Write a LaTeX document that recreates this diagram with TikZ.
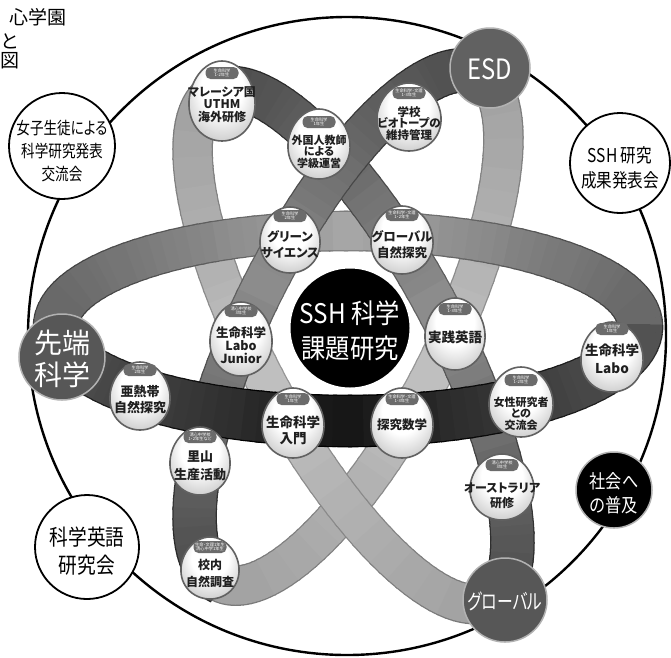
\documentclass[tikz,border=0pt]{standalone}
\usepackage{fontspec}
\newfontfamily\jp{Noto Sans CJK JP}[RawFeature=+palt]
\usetikzlibrary{calc}
\newcommand\fs[2]{\fontsize{#1}{#2}\selectfont}
\pgfdeclareradialshading{eggshade}{\pgfpoint{0bp}{12bp}}{color(0bp)=(white); color(16bp)=(white); color(28bp)=(black!16); color(40bp)=(black!36); color(50bp)=(black!45)}
\newcommand\bandpart[6]{%
  \pgfmathtruncatemacro\nseg{round(abs(#2-#1)/3)}%
  \foreach \pass in {0,1}{%
  \foreach \i in {1,...,\nseg}{%
    \pgfmathsetmacro\ta{#1+(#2-#1)*(\i-1)/\nseg}%
    \pgfmathsetmacro\tb{#1+(#2-#1)*\i/\nseg+0.8}%
    \pgfmathsetmacro\tm{(\ta+\tb)/2}%
    \pgfmathsetmacro\wv{#5+#6*sin(\tm)+2.6*(1-\pass)}%
    \pgfmathtruncatemacro\gv{min(100,max(0,#3+#4*abs(cos(\tm))+16*(1-\pass)))}%
    \draw[line width=\wv pt, color=black!\gv, shift={(\RX,\RY)}, rotate=\RR]
      (\ta:\RA pt and \RB pt) arc[start angle=\ta, end angle=\tb, x radius=\RA pt, y radius=\RB pt];
  }}}
\newcommand\egg[4]{%
  \shadedraw[shading=eggshade, draw=black!62, line width=1.6pt]
    plot[domain=0:354, samples=60, smooth cycle, variable=\t]
    ({#1+(#3/2)*cos(\t)*(1+0.07*sin(\t))}, {#2+(#4/2)*sin(\t)});}
\begin{document}
\begin{tikzpicture}[x=1pt,y=-1pt,
  pillst/.style={fill=black!58, rounded corners=5pt, minimum width=33pt, minimum height=12pt, inner sep=0pt, text=white, align=center, font=\jp\fs{4.2}{4.6}},
  eggtxt/.style={align=center, inner sep=0pt, text=black!88},
  bigw/.style={circle, draw=black, line width=1.8pt, fill=white, inner sep=0pt},
  bigd/.style={circle, draw=black!30, line width=1.5pt, inner sep=0pt},
  bigtxt/.style={align=center, inner sep=0pt, transform shape}]
\useasboundingbox (0,0) rectangle (671,657);
\fill[white] (0,0) rectangle (671,657);

% cropped header text
\node[anchor=east, inner sep=0pt, font=\jp\fs{19}{19}] (hd1) at (67,17) {心学園};
\node[anchor=west, inner sep=0pt, font=\jp\fs{19}{19}] (hd2) at (0.5,41) {と};
\node[anchor=west, inner sep=0pt, font=\jp\fs{19}{19}] (hd3) at (0.5,61) {図};

% outer circle
\node[circle, draw=black, line width=2.4pt, minimum size=638pt, inner sep=0pt] (outer) at (347,336) {};

% ---- rings: back parts
\def\RX{349}\def\RY{328}\def\RR{63.05}\def\RA{285}\def\RB{95}
\bandpart{180}{360}{25}{12}{38}{0}
\def\RX{352.5}\def\RY{346}\def\RR{-61.6}\def\RA{289}\def\RB{93}
\bandpart{180}{360}{25}{12}{38}{0}
% horizontal ring top
\def\RX{348}\def\RY{326}\def\RR{0}\def\RA{292}\def\RB{95}
\bandpart{0}{180}{35}{25}{44}{(-6)}
% front parts
\def\RX{352.5}\def\RY{346}\def\RR{-61.6}\def\RA{289}\def\RB{93}
\bandpart{0}{180}{45}{25}{42}{0}
\def\RX{349}\def\RY{328}\def\RR{63.05}\def\RA{285}\def\RB{95}
\bandpart{0}{180}{45}{25}{42}{0}
% horizontal ring bottom
\def\RX{348}\def\RY{326}\def\RR{0}\def\RA{292}\def\RB{95}
\bandpart{180}{360}{92}{(-24)}{44}{(-6)}

% ---- outer bubbles
\node[bigw, minimum size=106pt] (c1) at (62,146) {};
\node[bigtxt, xscale=0.8, font=\jp\fs{17}{23}] (t1) at (62,151) {女子生徒による\\科学研究発表\\交流会};
\node[bigw, minimum size=100pt] (c2) at (620,163) {};
\node[bigtxt, xscale=0.82, font=\jp\fs{19}{25}] (t2) at (620,168) {SSH 研究\\成果発表会};
\node[bigd, fill=black!66, minimum size=86pt] (c3) at (62,357) {};
\node[bigtxt, text=white, font=\jp\fs{28}{32}] (t3) at (62,359) {先端\\科学};
\node[bigd, fill=black, minimum size=76pt] (c4) at (614,490) {};
\node[bigtxt, text=white, xscale=0.85, font=\jp\fs{19}{24}] (t4) at (614,493) {社会へ\\の普及};
\node[bigw, minimum size=104pt] (c5) at (87,547) {};
\node[bigtxt, xscale=0.85, font=\jp\fs{22}{28}] (t5) at (87,551) {科学英語\\研究会};
\node[bigd, fill=black!66, minimum size=84pt] (c6) at (505,600) {};
\node[bigtxt, text=white, xscale=0.75, font=\jp\fs{21}{21}] (t6) at (505,601) {グローバル};
\node[bigd, fill=black!62, minimum size=80pt] (c7) at (490,68) {};
\node[bigtxt, text=white, xscale=0.85, font=\jp\fs{28}{28}] (t7) at (490,69) {ESD};

% ---- eggs
\egg{222}{101}{66}{80}
\node[pillst] (p1) at (222,73) {生命科学\\1-2年生};
\node[eggtxt, font=\jp\bfseries\fs{12}{12.5}] (e1) at (222,104.5) {マレーシア国\\UTHM\\海外研修};
\egg{319}{144}{62}{70}
\node[pillst] (p2) at (319,122) {生命科学\\1年生};
\node[eggtxt, font=\jp\bfseries\fs{11}{11.5}] (e2) at (319,151.5) {外国人教師\\による\\学級運営};
\egg{409}{117}{64}{68}
\node[pillst] (p3) at (409,93) {生命科学・文理\\1-3年生};
\node[eggtxt, font=\jp\bfseries\fs{11.5}{11.8}] (e3) at (409,123.5) {学校\\ビオトープの\\維持管理};
\egg{290}{240}{60}{66}
\node[pillst] (p4) at (290,216) {生命科学\\2年生};
\node[eggtxt, font=\jp\bfseries\fs{12.5}{16}] (e4) at (290,244) {グリーン\\サイエンス};
\egg{402}{240}{62}{68}
\node[pillst] (p5) at (402,215) {生命科学・文理\\1・2年生};
\node[eggtxt, font=\jp\bfseries\fs{12.5}{16}] (e5) at (402,245) {グローバル\\自然探究};
\egg{241}{339}{62}{74}
\node[pillst] (p6) at (241,311) {清心中学校\\3年生};
\node[eggtxt, font=\jp\bfseries\fs{12.5}{13}] (e6) at (241,345) {生命科学\\Labo\\Junior};
\egg{455}{334}{60}{72}
\node[pillst] (p7) at (455,309) {生命科学\\1-3年生};
\node[eggtxt, font=\jp\bfseries\fs{13.5}{14}] (e7) at (455,337) {実践英語};
\egg{612}{357}{62}{70}
\node[pillst] (p8) at (612,329) {生命科学\\1年生};
\node[eggtxt, font=\jp\bfseries\fs{13.5}{18}] (e8) at (612,359) {生命科学\\Labo};
\egg{140}{396}{60}{68}
\node[pillst] (p9) at (140,370) {生命科学\\2年生};
\node[eggtxt, font=\jp\bfseries\fs{13}{16}] (e9) at (140,400) {亜熱帯\\自然探究};
\egg{293}{423}{62}{70}
\node[pillst] (p10) at (293,399) {生命科学\\1年生};
\node[eggtxt, font=\jp\bfseries\fs{13.5}{16}] (e10) at (293,430) {生命科学\\入門};
\egg{402}{423}{62}{70}
\node[pillst] (p11) at (402,399) {生命科学・文理\\1-3年生};
\node[eggtxt, font=\jp\bfseries\fs{12.5}{13}] (e11) at (402,425) {探究数学};
\egg{521}{402}{64}{70}
\node[pillst] (p12) at (521,380) {生命科学\\1-2年生};
\node[eggtxt, font=\jp\bfseries\fs{11}{11.5}] (e12) at (521,413.5) {女性研究者\\との\\交流会};
\egg{200}{461}{60}{68}
\node[pillst] (p13) at (200,437) {清心中学校\\1・2年生など};
\node[eggtxt, font=\jp\bfseries\fs{13}{18}] (e13) at (200,466) {里山\\生産活動};
\egg{502}{487}{64}{66}
\node[pillst] (p14) at (502,465) {清心中学校\\3年生};
\node[eggtxt, font=\jp\bfseries\fs{12}{15}] (e14) at (502,495.5) {オーストラリア\\研修};
\egg{210}{568}{58}{62}
\node[pillst] (p15) at (210,547) {生命・文理1年生\\清心中学1年生};
\node[eggtxt, font=\jp\bfseries\fs{12}{17}] (e15) at (210,573.5) {校内\\自然調査};

% ---- core
\node[circle, fill=black, draw=white, line width=3pt, minimum size=122pt, inner sep=0pt] (core) at (350,328) {};
\node[bigtxt, text=white, xscale=0.9, font=\jp\fs{27}{35}] (coretxt) at (350,331) {SSH 科学\\課題研究};
\end{tikzpicture}
\end{document}
